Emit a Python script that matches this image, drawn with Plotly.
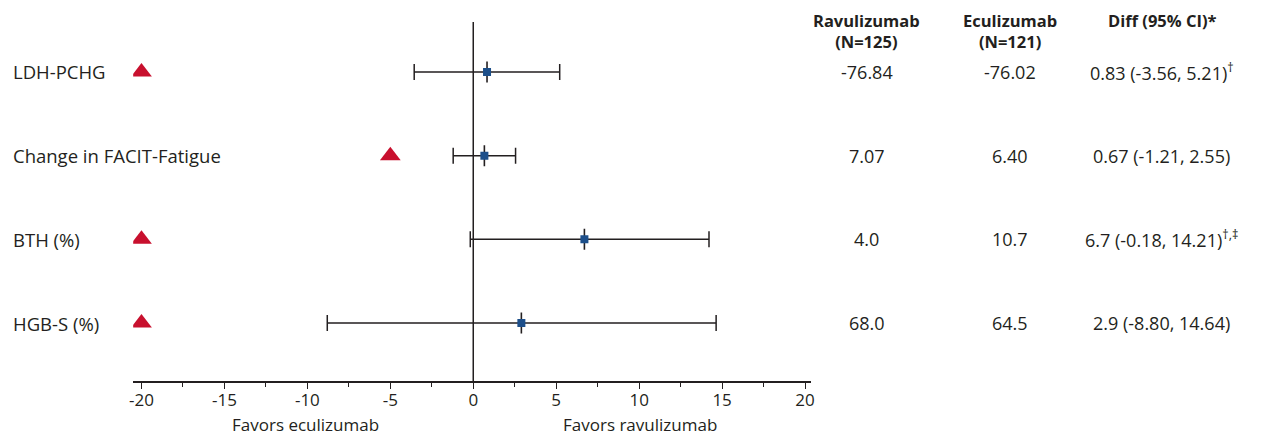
import plotly.graph_objects as go

# Endpoints, top to bottom
endpoints = ["LDH-PCHG", "Change in FACIT-Fatigue", "BTH (%)", "HGB-S (%)"]
diff = [0.83, 0.67, 6.7, 2.9]
diff_text = ["0.83", "0.67", "6.7", "2.9"]
ci_low = [-3.56, -1.21, -0.18, -8.80]
ci_high = [5.21, 2.55, 14.21, 14.64]
ravu_vals = ["-76.84", "7.07", "4.0", "68.0"]
ecu_vals = ["-76.02", "6.40", "10.7", "64.5"]
diff_notes = ["†", "", "†,‡", ""]
triangle_x = [-20, -5, -20, -20]

tick_vals = [-20, -15, -10, -5, 0, 5, 10, 15, 20]
tick_text = ["-20", "-15", "-10", "-5", "0", "5", "10", "15", "20"]

rows = [4, 3, 2, 1]
W, H = 1263, 438
FONT = "Open Sans, Lato, sans-serif"
INK = "#231f20"

fig = go.Figure()

# confidence intervals
fig.add_trace(go.Scatter(
    x=diff, y=rows, mode="markers",
    marker=dict(symbol="line-ns", size=15, line=dict(width=1.6, color=INK)),
    error_x=dict(type="data", symmetric=False,
                 array=[h - d for h, d in zip(ci_high, diff)],
                 arrayminus=[d - l for d, l in zip(diff, ci_low)],
                 color=INK, thickness=1.5, width=8),
    hoverinfo="skip", showlegend=False))

# point estimates
fig.add_trace(go.Scatter(
    x=diff, y=rows, mode="markers",
    marker=dict(symbol="square", size=8, color="#1d4f8a"),
    showlegend=False))

# red triangles
fig.add_trace(go.Scatter(
    x=triangle_x, y=rows, mode="markers",
    marker=dict(symbol="triangle-up", size=18, color="#c8102e"),
    showlegend=False))

y_lo, y_hi = 0.307, 4.597
fig.add_shape(type="line", xref="x", yref="y", x0=0, x1=0, y0=y_lo, y1=y_hi,
              line=dict(color=INK, width=1.5))

# endpoint labels
for name, r in zip(endpoints, rows):
    fig.add_annotation(x=7 / W, xref="paper", y=r, yref="y", text=name,
                       xanchor="left", yanchor="middle", showarrow=False,
                       font=dict(family=FONT, size=18.5, color=INK))

# table columns
col_x = [868 / W, 1012 / W, 1165 / W]
headers = ["<b>Ravulizumab<br>(N=125)</b>", "<b>Eculizumab<br>(N=121)</b>",
           "<b>Diff (95% CI)*</b>"]
for cx, htxt in zip(col_x, headers):
    fig.add_annotation(x=cx, xref="paper", y=1 - 7 / H, yref="paper", text=htxt,
                       xanchor="center", yanchor="top", showarrow=False,
                       font=dict(family=FONT, size=16.5, color=INK))

for r, rv, ev, dt, lo, hi, note in zip(rows, ravu_vals, ecu_vals, diff_text,
                                       ci_low, ci_high, diff_notes):
    fig.add_annotation(x=col_x[0], xref="paper", y=r, yref="y", text=rv,
                       xanchor="center", yanchor="middle", showarrow=False,
                       font=dict(family=FONT, size=18, color=INK))
    fig.add_annotation(x=col_x[1], xref="paper", y=r, yref="y", text=ev,
                       xanchor="center", yanchor="middle", showarrow=False,
                       font=dict(family=FONT, size=18, color=INK))
    dtxt = f"{dt} ({lo:.2f}, {hi:.2f})"
    if note:
        dtxt += f"<sup>{note}</sup>"
    fig.add_annotation(x=col_x[2], xref="paper", y=r, yref="y", text=dtxt,
                       xanchor="center", yanchor="middle", showarrow=False,
                       font=dict(family=FONT, size=18, color=INK))

# favours labels
fig.add_annotation(x=-10.1, xref="x", y=(H - 424) / H, yref="paper",
                   text="Favors eculizumab", showarrow=False,
                   xanchor="center", yanchor="middle",
                   font=dict(family=FONT, size=17, color=INK))
fig.add_annotation(x=10.05, xref="x", y=(H - 424) / H, yref="paper",
                   text="Favors ravulizumab", showarrow=False,
                   xanchor="center", yanchor="middle",
                   font=dict(family=FONT, size=17, color=INK))

fig.update_layout(
    width=W, height=H,
    margin=dict(l=0, r=0, t=0, b=0),
    paper_bgcolor="white", plot_bgcolor="white",
    xaxis=dict(domain=[130 / W, 812 / W], range=[-20.5, 20.35],
               tickvals=tick_vals, ticktext=tick_text,
               showline=True, linecolor=INK, linewidth=1.5,
               ticks="outside", ticklen=6, tickwidth=1.3, tickcolor=INK,
               ticklabelstandoff=-3,
               minor=dict(tickvals=[-17.5, -12.5, -7.5, -2.5, 2.5, 7.5, 12.5, 17.5],
                          ticks="outside", ticklen=4, tickwidth=1.2, tickcolor=INK),
               showgrid=False, zeroline=False, fixedrange=True,
               tickfont=dict(family=FONT, size=17, color=INK)),
    yaxis=dict(domain=[(H - 381) / H, (H - 22) / H], range=[y_lo, y_hi],
               visible=False, fixedrange=True),
)

fig.write_html("out.html")
